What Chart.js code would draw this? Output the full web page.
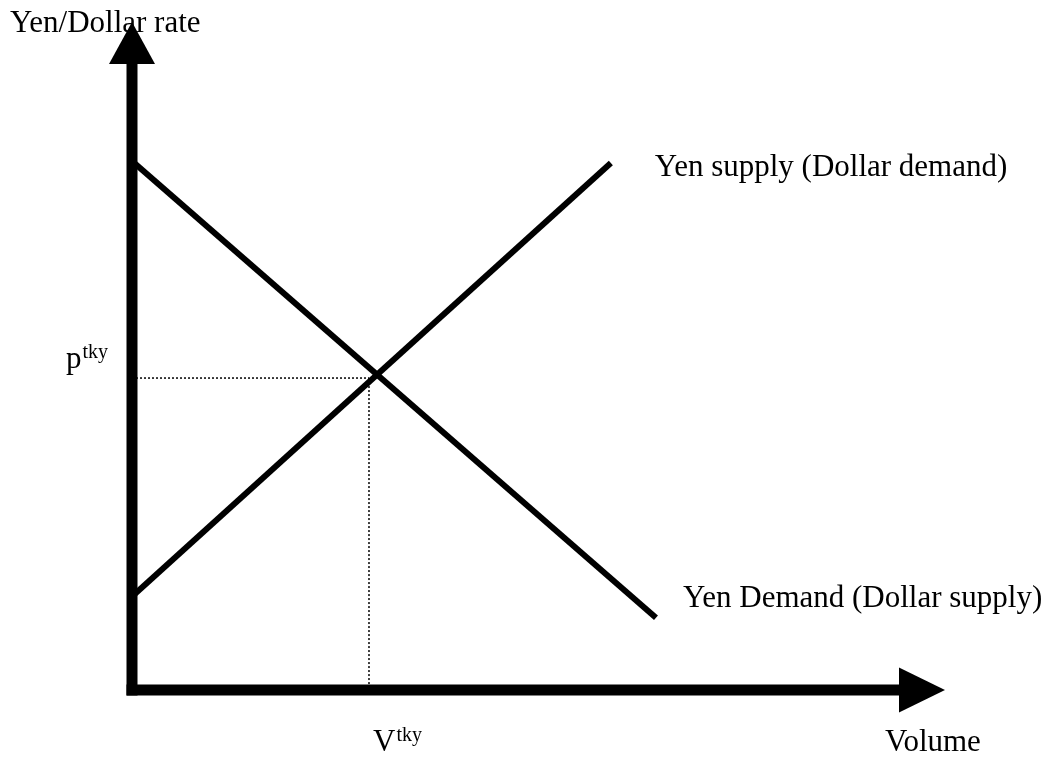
<!DOCTYPE html>
<html>
<head>
<meta charset="utf-8">
<title>Yen/Dollar market</title>
<script src="https://cdn.jsdelivr.net/npm/chart.js@4"></script>
<style>
  html, body { margin: 0; padding: 0; background: #fff; }
  #wrap { width: 1053px; height: 758px; position: relative; }
</style>
</head>
<body>
<div id="wrap"><canvas id="fxChart"></canvas></div>
<script>
// valores (unidades arbitrárias, 0..100)
const demandVolume = [0, 64.45];
const demandRate = [79.2, 10.8];
const supplyVolume = [0, 58.9];
const supplyRate = [14.0, 78.9];
const eqVolume = 29.15;
const eqRate = 46.7;

const axisTitles = ['Volume', 'Yen/Dollar rate'];
const curveLabels = ['Yen supply (Dollar demand)', 'Yen Demand (Dollar supply)'];
const tickLabels = [['p', 'tky'], ['V', 'tky']];

const toPoints = (xs, ys) => xs.map((x, i) => ({ x: x, y: ys[i] }));

const FONT = '"Liberation Serif", "Times New Roman", serif';

// eixos com setas + textos
const axesPlugin = {
    id: 'axesPlugin',
    afterDatasetsDraw(chart) {
        const ctx = chart.ctx;
        const xs = chart.scales.x;
        const ys = chart.scales.y;
        const x0 = xs.getPixelForValue(0);
        const y0 = ys.getPixelForValue(0);
        const xEnd = xs.getPixelForValue(100);
        const yEnd = ys.getPixelForValue(100);
        const w = 11;

        ctx.save();
        ctx.fillStyle = '#000';
        // eixo vertical
        ctx.fillRect(x0 - w / 2, yEnd + 42, w, y0 + w / 2 - (yEnd + 42));
        ctx.beginPath();
        ctx.moveTo(x0, yEnd);
        ctx.lineTo(x0 - 23, yEnd + 42);
        ctx.lineTo(x0 + 23, yEnd + 42);
        ctx.closePath();
        ctx.fill();
        // eixo horizontal
        ctx.fillRect(x0 - w / 2, y0 - w / 2, xEnd - 46 - (x0 - w / 2), w);
        ctx.beginPath();
        ctx.moveTo(xEnd, y0);
        ctx.lineTo(xEnd - 46, y0 - 22.5);
        ctx.lineTo(xEnd - 46, y0 + 22.5);
        ctx.closePath();
        ctx.fill();

        ctx.textBaseline = 'alphabetic';
        ctx.textAlign = 'left';
        ctx.font = '31px ' + FONT;
        ctx.fillText(axisTitles[1], 10, 32);
        ctx.fillText(axisTitles[0], 885, y0 + 61);

        // rótulos das curvas
        const sx = xs.getPixelForValue(supplyVolume[1]);
        const sy = ys.getPixelForValue(supplyRate[1]);
        ctx.fillText(curveLabels[0], sx + 44, sy + 13);
        const dx = xs.getPixelForValue(demandVolume[1]);
        const dy = ys.getPixelForValue(demandRate[1]);
        ctx.fillText(curveLabels[1], dx + 27, dy - 11);

        // p^tky e V^tky
        const drawSup = (parts, x, y) => {
            ctx.font = '31px ' + FONT;
            ctx.fillText(parts[0], x, y);
            const m = ctx.measureText(parts[0]).width;
            ctx.font = '20px ' + FONT;
            ctx.fillText(parts[1], x + m + 1, y - 10);
        };
        drawSup(tickLabels[0], 66, ys.getPixelForValue(eqRate) - 10);
        drawSup(tickLabels[1], xs.getPixelForValue(eqVolume) + 4, y0 + 61);
        ctx.restore();
    }
};

const ctx = document.getElementById('fxChart').getContext('2d');
new Chart(ctx, {
    type: 'scatter',
    data: {
        datasets: [{
            label: curveLabels[1],
            data: toPoints(demandVolume, demandRate),
            showLine: true,
            borderColor: '#000',
            borderWidth: 6,
            pointRadius: 0
        }, {
            label: curveLabels[0],
            data: toPoints(supplyVolume, supplyRate),
            showLine: true,
            borderColor: '#000',
            borderWidth: 6,
            pointRadius: 0
        }, {
            label: 'p',
            data: [{ x: 0, y: eqRate }, { x: eqVolume, y: eqRate }],
            showLine: true,
            borderColor: '#000',
            borderWidth: 1.5,
            borderDash: [2, 2],
            pointRadius: 0
        }, {
            label: 'V',
            data: [{ x: eqVolume, y: eqRate }, { x: eqVolume, y: 0 }],
            showLine: true,
            borderColor: '#000',
            borderWidth: 1.5,
            borderDash: [2, 2],
            pointRadius: 0
        }]
    },
    options: {
        responsive: true,
        maintainAspectRatio: false,
        animation: false,
        layout: { padding: { left: 132, right: 108, top: 22, bottom: 68 } },
        plugins: {
            legend: { display: false },
            tooltip: { enabled: false }
        },
        scales: {
            x: { type: 'linear', min: 0, max: 100, display: false },
            y: { type: 'linear', min: 0, max: 100, display: false }
        }
    },
    plugins: [axesPlugin]
});
</script>
</body>
</html>
